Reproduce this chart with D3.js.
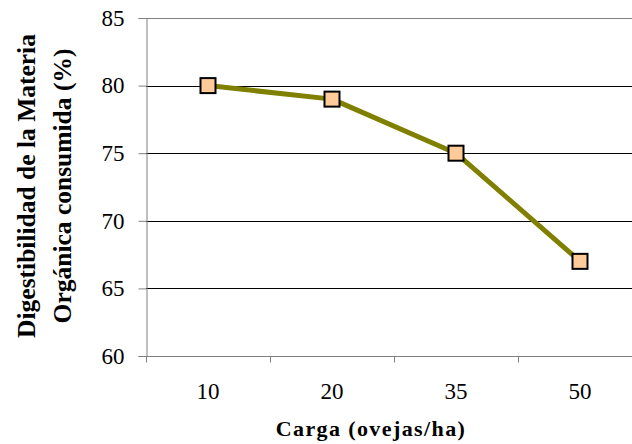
<!DOCTYPE html>
<html>
<head>
<meta charset="utf-8">
<script src="https://cdn.jsdelivr.net/npm/d3@7"></script>
<style>
  html, body { margin: 0; padding: 0; background: #fff; }
  svg, svg text { font-family: "Liberation Serif", "Times New Roman", serif; }
</style>
</head>
<body>
<svg id="chart" width="632" height="444"></svg>
<script>
// Stocking rate (sheep/ha) and digestibility of consumed organic matter (%)
const categories = ["10", "20", "35", "50"];
const values = [80, 79, 75, 67];
const yTicks = [60, 65, 70, 75, 80, 85];

const margin = { left: 146, top: 18 };
const bandW = 124;
const plotH = 338;

const svg = d3.select("#chart");

const x = d3.scaleBand()
  .domain(categories)
  .range([margin.left, margin.left + bandW * categories.length])
  .paddingInner(0).paddingOuter(0);

const y = d3.scaleLinear()
  .domain([60, 85])
  .range([margin.top + plotH, margin.top]);

const right = margin.left + bandW * categories.length;

// horizontal gridlines
svg.append("g")
  .selectAll("line")
  .data(yTicks.filter(d => d > 60))
  .join("line")
  .attr("x1", margin.left)
  .attr("x2", right)
  .attr("y1", d => Math.round(y(d)) + 0.5)
  .attr("y2", d => Math.round(y(d)) + 0.5)
  .attr("stroke", d => d === 85 ? "#808080" : "#000")
  .attr("stroke-width", 1);

// y axis
const yAxis = svg.append("g")
  .attr("transform", `translate(${margin.left + 0.5},0)`)
  .call(d3.axisLeft(y).tickValues(yTicks).tickSize(8).tickPadding(14).tickFormat(d3.format("d")));
yAxis.attr("font-family", null);
yAxis.select(".domain").attr("stroke", "#808080");
yAxis.selectAll(".tick line").attr("stroke", "#808080");
yAxis.selectAll(".tick text")
  .style("font-family", "'Liberation Serif', serif")
  .attr("font-size", 23)
  .attr("fill", "#000");

// x axis with boundary ticks between categories
const xAxis = svg.append("g")
  .attr("transform", `translate(0,${Math.round(y(60)) + 0.5})`);
xAxis.append("line")
  .attr("x1", margin.left).attr("x2", right)
  .attr("stroke", "#808080");
xAxis.selectAll("line.bt")
  .data(categories)
  .join("line")
  .attr("class", "bt")
  .attr("x1", d => Math.round(x(d)) + 0.5)
  .attr("x2", d => Math.round(x(d)) + 0.5)
  .attr("y1", 0).attr("y2", 6)
  .attr("stroke", "#808080");
xAxis.selectAll("text")
  .data(categories)
  .join("text")
  .attr("x", d => x(d) + x.bandwidth() / 2)
  .attr("y", 42)
  .attr("text-anchor", "middle")
  .attr("font-size", 23)
  .text(d => d);

// data line
const line = d3.line()
  .x((d, i) => x(categories[i]) + x.bandwidth() / 2)
  .y(d => y(d));

svg.append("path")
  .datum(values)
  .attr("d", line)
  .attr("fill", "none")
  .attr("stroke", "#808000")
  .attr("stroke-width", 5)
  .attr("stroke-linejoin", "round");

// square markers
const ms = 15;
svg.append("g")
  .selectAll("rect")
  .data(values)
  .join("rect")
  .attr("x", (d, i) => x(categories[i]) + x.bandwidth() / 2 - ms / 2)
  .attr("y", d => y(d) - ms / 2)
  .attr("width", ms)
  .attr("height", ms)
  .attr("fill", "#FFCC99")
  .attr("stroke", "#000")
  .attr("stroke-width", 2);

// axis titles
const yTitle = svg.append("text")
  .attr("transform", "rotate(-90)")
  .attr("text-anchor", "middle")
  .attr("font-weight", "bold")
  .attr("font-size", 25.5);
yTitle.append("tspan").attr("x", -186).attr("y", 35).text("Digestibilidad de la Materia");
yTitle.append("tspan").attr("x", -186).attr("y", 71).text("Orgánica consumida (%)");

svg.append("text")
  .attr("x", 371)
  .attr("y", 436)
  .attr("text-anchor", "middle")
  .attr("font-weight", "bold")
  .attr("font-size", 22)
  .attr("letter-spacing", 1.4)
  .text("Carga (ovejas/ha)");
</script>
</body>
</html>
